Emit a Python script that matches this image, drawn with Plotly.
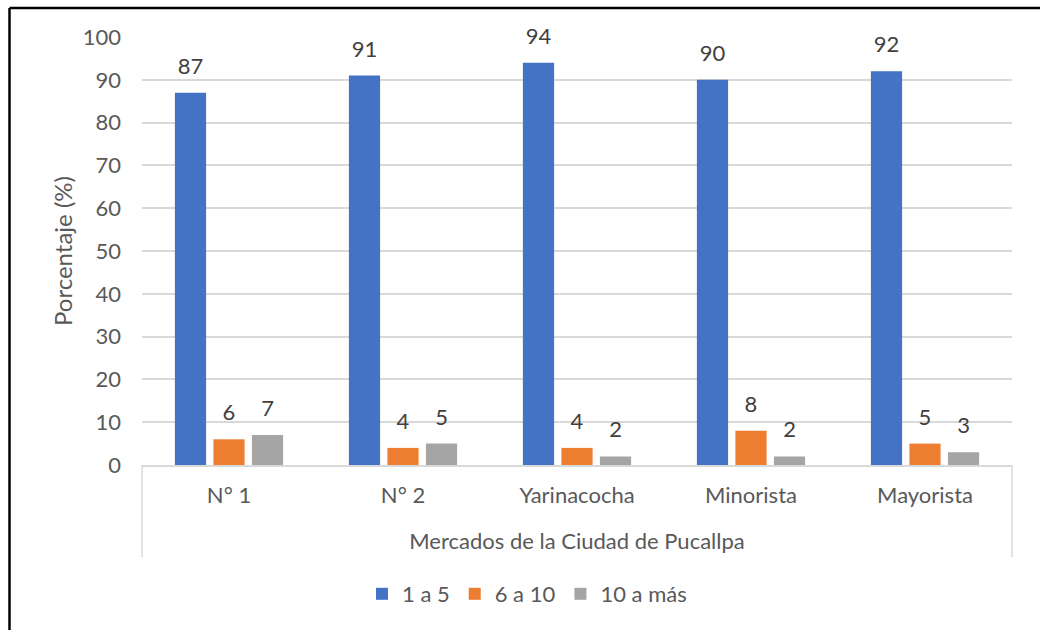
import plotly.graph_objects as go

categories = ["N° 1", "N° 2", "Yarinacocha", "Minorista", "Mayorista"]
series_names = ["1 a 5", "6 a 10", "10 a más"]
v_1a5 = [87, 91, 94, 90, 92]
v_6a10 = [6, 4, 4, 8, 5]
v_10mas = [7, 5, 2, 2, 3]
colors = ["#4472C4", "#ED7D31", "#A5A5A5"]
y_ticks = [0, 10, 20, 30, 40, 50, 60, 70, 80, 90, 100]

FONT = "Lato"
TXT = "#595959"
GRID = "#D9D9D9"
FS = 22

W, H = 1040, 630
L, R, T, B = 142, 28, 37, 165
pw, ph = W - L - R, H - T - B

def px_x(x):
    return (x - L) / pw

def px_y(y):
    return (H - B - y) / ph

fig = go.Figure()
for name, vals, col in zip(series_names, [v_1a5, v_6a10, v_10mas], colors):
    fig.add_trace(go.Bar(x=categories, y=vals, name=name, marker_color=col,
                         marker_line_width=0))
for name, vals in zip(series_names, [v_1a5, v_6a10, v_10mas]):
    fig.add_trace(go.Scatter(x=categories, y=vals, mode="markers+text",
                             text=[str(v) for v in vals], textposition="top center",
                             marker=dict(size=20, opacity=0),
                             textfont=dict(family=FONT, size=FS, color="#404040"),
                             showlegend=False, hoverinfo="skip", cliponaxis=False))

shapes = [
    dict(type="line", xref="paper", yref="paper", x0=px_x(9.5), x1=px_x(1045),
         y0=px_y(8), y1=px_y(8), line=dict(color="black", width=2.5)),
    dict(type="line", xref="paper", yref="paper", x0=px_x(9.5), x1=px_x(9.5),
         y0=px_y(8), y1=px_y(640), line=dict(color="black", width=2.5)),
    dict(type="line", xref="paper", yref="paper", x0=0, x1=0,
         y0=0, y1=px_y(557), line=dict(color=GRID, width=1.5)),
    dict(type="line", xref="paper", yref="paper", x0=1, x1=1,
         y0=0, y1=px_y(557), line=dict(color=GRID, width=1.5)),
]

fig.update_layout(
    width=W, height=H,
    margin=dict(l=L, r=R, t=T, b=B),
    paper_bgcolor="white", plot_bgcolor="white",
    barmode="group", bargap=0.336, bargroupgap=0.19,
    scattermode="group", scattergap=0.336,
    font=dict(family=FONT, size=FS, color=TXT),
    showlegend=True,
    legend=dict(orientation="h", x=px_x(527), xanchor="center", y=px_y(594), yanchor="middle",
                font=dict(family=FONT, size=FS, color=TXT), traceorder="normal",
                itemwidth=30),
    shapes=shapes,
    xaxis=dict(showgrid=False, showline=True, linecolor=GRID, linewidth=1.5,
               ticks="", ticklabelstandoff=10,
               tickfont=dict(family=FONT, size=FS, color=TXT),
               title=dict(text="Mercados de la Ciudad de Pucallpa", standoff=26,
                          font=dict(family=FONT, size=FS, color=TXT))),
    yaxis=dict(range=[0, 100], tickvals=y_ticks, showgrid=True, gridcolor=GRID, gridwidth=1.5,
               zeroline=False, showline=False, ticks="", ticklabelstandoff=20,
               tickfont=dict(family=FONT, size=FS, color=TXT),
               title=dict(text="Porcentaje (%)", standoff=3,
                          font=dict(family=FONT, size=24, color=TXT))),
)

fig.write_html("out.html")
